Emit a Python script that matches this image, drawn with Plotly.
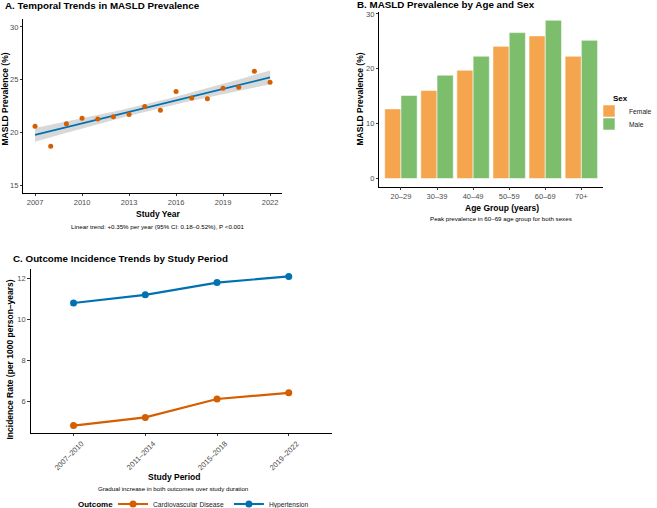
import numpy as np
import plotly.graph_objects as go

# ---------------- Data ----------------
years = [2007, 2008, 2009, 2010, 2011, 2012, 2013, 2014, 2015, 2016, 2017, 2018, 2019, 2020, 2021, 2022]
prevalence = [20.57, 18.68, 20.82, 21.35, 21.26, 21.48, 21.70, 22.45, 22.10, 23.87, 23.27, 23.18, 24.18, 24.28, 25.79, 24.75]

age_groups = ["20\u201329", "30\u201339", "40\u201349", "50\u201359", "60\u201369", "70+"]
female_prev = [12.7, 16.06, 19.76, 24.1, 26.0, 22.3]
male_prev = [15.15, 18.85, 22.3, 26.6, 28.85, 25.2]

periods = ["2007\u20132010", "2011\u20132014", "2015\u20132018", "2019\u20132022"]
cvd_rate = [4.8, 5.2, 6.1, 6.4]
htn_rate = [10.8, 11.2, 11.8, 12.1]

# ---------------- Linear fit with 95% CI ----------------
xa = np.array(years, dtype=float)
ya = np.array(prevalence, dtype=float)
n = len(xa)
slope, intercept = np.polyfit(xa, ya, 1)
resid = ya - (slope * xa + intercept)
s = np.sqrt(np.sum(resid ** 2) / (n - 2))
xg = np.linspace(xa.min(), xa.max(), 80)
yg = slope * xg + intercept
se = s * np.sqrt(1.0 / n + (xg - xa.mean()) ** 2 / np.sum((xa - xa.mean()) ** 2))
tval = 2.145
upper = yg + tval * se
lower = yg - tval * se

FONT = "Liberation Sans, Arial, Helvetica, sans-serif"
ORANGE = "#D55E00"
BLUE = "#0072B2"
F_COL = "#F5A54E"
M_COL = "#7DBE6D"

fig = go.Figure()

# Panel A
fig.add_trace(go.Scatter(x=np.concatenate([xg, xg[::-1]]), y=np.concatenate([upper, lower[::-1]]),
                         fill="toself", fillcolor="rgba(190,190,190,0.6)", line=dict(width=0),
                         hoverinfo="skip", showlegend=False, xaxis="x", yaxis="y"))
fig.add_trace(go.Scatter(x=xg, y=yg, mode="lines", line=dict(color=BLUE, width=1.8),
                         showlegend=False, xaxis="x", yaxis="y"))
fig.add_trace(go.Scatter(x=years, y=prevalence, mode="markers",
                         marker=dict(color=ORANGE, size=5), showlegend=False, xaxis="x", yaxis="y"))

# Panel B
bar_line = dict(color="rgba(255,255,255,0.7)", width=0.8)
fig.add_trace(go.Bar(x=age_groups, y=female_prev, name="Female", marker=dict(color=F_COL, line=bar_line),
                     xaxis="x2", yaxis="y2", legend="legend"))
fig.add_trace(go.Bar(x=age_groups, y=male_prev, name="Male", marker=dict(color=M_COL, line=bar_line),
                     xaxis="x2", yaxis="y2", legend="legend3"))

# Panel C
fig.add_trace(go.Scatter(x=periods, y=cvd_rate, mode="lines+markers", name="Cardiovascular Disease",
                         line=dict(color=ORANGE, width=2.2), marker=dict(size=7, color=ORANGE),
                         xaxis="x3", yaxis="y3", legend="legend2"))
fig.add_trace(go.Scatter(x=periods, y=htn_rate, mode="lines+markers", name="Hypertension",
                         line=dict(color=BLUE, width=2.2), marker=dict(size=7, color=BLUE),
                         xaxis="x3", yaxis="y3", legend="legend2"))

W, H = 657, 508
def px(x):
    return x / W
def py(y):
    return 1 - y / H

tickfont = dict(family=FONT, size=7.5, color="#4d4d4d")
axis_common = dict(showline=True, linecolor="black", linewidth=0.8, ticks="outside", ticklen=2.5,
                   tickwidth=0.8, tickcolor="#333333", showgrid=False, zeroline=False, tickfont=tickfont)

legend_font = dict(family=FONT, size=6.7, color="#222222")
layout = dict(
    width=W, height=H, margin=dict(l=0, r=0, t=0, b=0, autoexpand=False),
    paper_bgcolor="white", plot_bgcolor="white",
    font=dict(family=FONT, color="black"),
    barmode="group", bargap=0.1, bargroupgap=0.0,
    xaxis=dict(domain=[px(23.3), px(281.8)], anchor="y", range=[2006.25, 2022.75],
               tickvals=[2007, 2010, 2013, 2016, 2019, 2022], **axis_common),
    yaxis=dict(domain=[py(193), py(19)], anchor="x", range=[14.25, 30.75],
               tickvals=[15, 20, 25, 30], **axis_common),
    xaxis2=dict(domain=[px(379.3), px(603)], anchor="y2", range=[-0.6, 5.6], type="category",
                **axis_common),
    yaxis2=dict(domain=[py(186.5), py(12.3)], anchor="x2", range=[-1.44, 30.3],
                tickvals=[0, 10, 20, 30], **axis_common),
    xaxis3=dict(domain=[px(30.5), px(331.8)], anchor="y3", range=[-0.6, 3.6], type="category",
                tickangle=-45, ticklabelshift=8, **axis_common),
    yaxis3=dict(domain=[py(433), py(269)], anchor="x3", range=[4.435, 12.465],
                tickvals=[6, 8, 10, 12], **axis_common),
    legend=dict(x=px(589), y=py(111), xanchor="left", yanchor="middle",
                font=legend_font, bgcolor="rgba(0,0,0,0)"),
    legend3=dict(x=px(589), y=py(124), xanchor="left", yanchor="middle",
                 font=legend_font, bgcolor="rgba(0,0,0,0)"),
    legend2=dict(orientation="h", x=px(113), y=py(504), xanchor="left", yanchor="middle",
                 font=legend_font, bgcolor="rgba(0,0,0,0)", itemwidth=30),
)
fig.update_layout(**layout)

def ann(text, x, y, size, bold=False, angle=0, xanchor="center", color="black"):
    fig.add_annotation(text=f"<b>{text}</b>" if bold else text, x=px(x), y=py(y), xref="paper", yref="paper",
                       showarrow=False, xanchor=xanchor, yanchor="middle", textangle=angle,
                       borderpad=0, font=dict(family=FONT, size=size, color=color))

# Titles
ann("A. Temporal Trends in MASLD Prevalence", 4, 6, 9.8, bold=True, xanchor="left")
ann("B. MASLD Prevalence by Age and Sex", 356, 5, 9.8, bold=True, xanchor="left")
ann("C. Outcome Incidence Trends by Study Period", 11.5, 258, 9.8, bold=True, xanchor="left")

# Axis titles
ann("Study Year", 157.7, 214, 8.5, bold=True)
ann("MASLD Prevalence (%)", 4.5, 99, 8.5, bold=True, angle=-90)
ann("Age Group (years)", 501.5, 208, 8.5, bold=True)
ann("MASLD Prevalence (%)", 359.5, 99, 8.5, bold=True, angle=-90)
ann("Study Period", 174.3, 477, 8.5, bold=True)
ann("Incidence Rate (per 1000 person\u2013years)", 9.5, 360, 8.5, bold=True, angle=-90)

# Captions
ann("Linear trend: +0.35% per year (95% CI: 0.18\u20130.52%), P &lt;0.001", 157.5, 226.5, 6.2)
ann("Peak prevalence in 60\u201369 age group for both sexes", 500.5, 218.5, 6.2)
ann("Gradual increase in both outcomes over study duration", 173, 488.5, 6.2)

# Legend titles
ann("Sex", 612, 98, 8, bold=True, xanchor="left")
ann("Outcome", 77, 504, 8, bold=True, xanchor="left")

fig.write_html("out.html")
